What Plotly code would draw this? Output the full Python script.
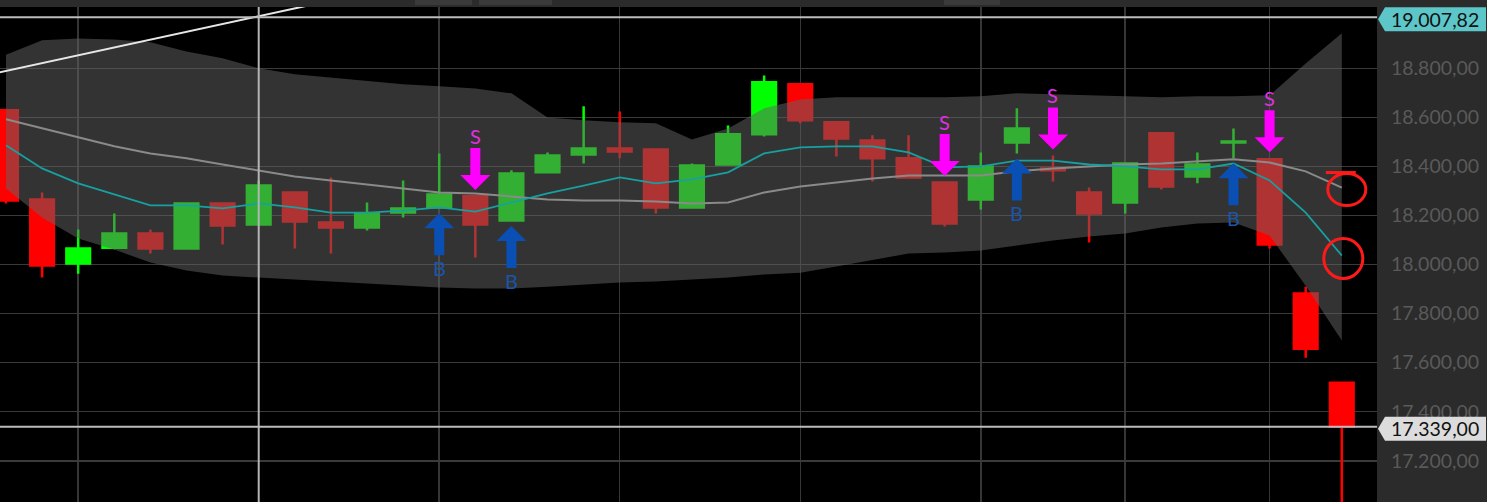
import plotly.graph_objects as go

# ---------------- data ----------------
idx = list(range(38))
opens = [18629, 18265, 18004, 18069, 18127, 18065, 18249, 18163, 18294, 18171,
         18151, 18212, 18233, 18278, 18180, 18376, 18449, 18473, 18469, 18233,
         18408, 18531, 18735, 18580, 18506, 18433, 18335, 18265, 18498, 18392,
         18294, 18253, 18535, 18359, 18498, 18429, 17882, 17518]
highs = [18635, 18294, 18143, 18208, 18143, 18253, 18253, 18343, 18298, 18355,
         18253, 18343, 18453, 18280, 18384, 18457, 18645, 18624, 18470, 18412,
         18567, 18771, 18739, 18582, 18527, 18527, 18337, 18457, 18637, 18445,
         18314, 18416, 18537, 18457, 18555, 18433, 17910, 17520]
lows = [18249, 17947, 17963, 18062, 18045, 18062, 18082, 18160, 18065, 18045,
        18139, 18192, 18230, 18029, 18178, 18374, 18412, 18433, 18208, 18230,
        18405, 18522, 18576, 18441, 18339, 18352, 18155, 18224, 18453, 18339,
        18090, 18208, 18306, 18331, 18433, 18065, 17620, 16950]
closes = [18261, 17996, 18065, 18127, 18065, 18249, 18159, 18322, 18176, 18151,
          18208, 18229, 18286, 18163, 18371, 18445, 18473, 18461, 18233, 18404,
          18531, 18743, 18588, 18514, 18433, 18355, 18167, 18400, 18555, 18384,
          18208, 18412, 18318, 18408, 18502, 18082, 17657, 17339]

bb_upper = [18855, 18914, 18922, 18918, 18906, 18869, 18841, 18800, 18776, 18763,
            18751, 18735, 18727, 18718, 18698, 18600, 18588, 18580, 18576, 18510,
            18555, 18637, 18673, 18682, 18682, 18682, 18682, 18686, 18698, 18694,
            18690, 18686, 18682, 18686, 18686, 18690, 18820, 18943]
bb_lower = [18310, 18192, 18106, 18061, 18008, 17976, 17955, 17947, 17939, 17931,
            17922, 17914, 17906, 17902, 17902, 17910, 17918, 17927, 17931, 17939,
            17947, 17959, 17967, 17992, 18020, 18045, 18049, 18057, 18078, 18098,
            18114, 18127, 18151, 18167, 18171, 18118, 17914, 17690]
sma_slow = [18592, 18555, 18518, 18482, 18453, 18433, 18408, 18384, 18359, 18343,
            18327, 18310, 18294, 18290, 18278, 18265, 18261, 18261, 18257, 18249,
            18253, 18294, 18318, 18335, 18351, 18363, 18363, 18363, 18380, 18392,
            18400, 18408, 18412, 18420, 18429, 18416, 18380, 18314]
ema_fast = [18486, 18392, 18331, 18286, 18241, 18241, 18229, 18249, 18233, 18212,
            18212, 18220, 18233, 18216, 18253, 18290, 18322, 18355, 18331, 18347,
            18376, 18453, 18478, 18482, 18482, 18457, 18396, 18400, 18424, 18424,
            18408, 18400, 18388, 18388, 18412, 18343, 18212, 18037]

trend_x = [-1, 12]
trend_y = [18757, 19172]

buy_idx = [12, 14, 28, 34]
sell_idx = [13, 26, 29, 35]
grid_idx = [2, 7, 12, 17, 22, 27, 31, 35]
cursor_idx = 7
ytick_vals = [17200, 17400, 17600, 17800, 18000, 18200, 18400, 18600, 18800]
ref_level = 19007.82
last_close = 17339.00

# ---------------- style ----------------
BG_PANEL = "#2b2b2b"
GREEN = "#00ff00"
RED = "#ff0000"
MAGENTA = "#ff00ff"
BLUE = "#0a50b4"
FONT = "Lato"


def eu(v):
    s = f"{v:,.2f}"
    return s.replace(",", "X").replace(".", ",").replace("X", ".")


fig = go.Figure()

fig.add_trace(go.Candlestick(
    x=idx, open=opens, high=highs, low=lows, close=closes,
    increasing=dict(line=dict(color=GREEN, width=2.5), fillcolor=GREEN),
    decreasing=dict(line=dict(color=RED, width=2.5), fillcolor=RED),
    whiskerwidth=0, showlegend=False, hoverinfo="skip",
))

# Bollinger band (overlays candles)
fig.add_trace(go.Scatter(x=idx, y=bb_lower, mode="lines", line=dict(width=0),
                         showlegend=False, hoverinfo="skip"))
fig.add_trace(go.Scatter(x=idx, y=bb_upper, mode="lines", line=dict(width=0),
                         fill="tonexty", fillcolor="rgba(100,100,100,0.51)",
                         showlegend=False, hoverinfo="skip"))

fig.add_trace(go.Scatter(x=idx, y=sma_slow, mode="lines",
                         line=dict(color="#8a8a8a", width=2),
                         showlegend=False, hoverinfo="skip"))
fig.add_trace(go.Scatter(x=idx, y=ema_fast, mode="lines",
                         line=dict(color="#17a0a0", width=1.8),
                         showlegend=False, hoverinfo="skip"))
fig.add_trace(go.Scatter(x=trend_x, y=trend_y, mode="lines",
                         line=dict(color="#e6e6e6", width=2),
                         showlegend=False, hoverinfo="skip"))

shapes = []
annotations = []

# cursor line and reference horizontal lines
shapes.append(dict(type="line", xref="x", yref="paper", x0=cursor_idx, x1=cursor_idx,
                   y0=0, y1=1, line=dict(color="#b4b4b4", width=2), layer="above"))
for lvl in (ref_level, last_close):
    shapes.append(dict(type="line", xref="paper", yref="y", x0=0, x1=1, y0=lvl, y1=lvl,
                       line=dict(color="#bdbdbd", width=2), layer="above"))

# sell arrows (down, above the high)
sell_path = "M 0,6 L -15,21 L -5,21 L -5,48 L 5,48 L 5,21 L 15,21 Z"
for i in sell_idx:
    shapes.append(dict(type="path", xref="x", yref="y", xsizemode="pixel",
                       ysizemode="pixel", xanchor=i, yanchor=highs[i], path=sell_path,
                       fillcolor=MAGENTA, line=dict(width=0), layer="above"))
    annotations.append(dict(x=i, y=highs[i], xref="x", yref="y", text="S",
                            showarrow=False, yanchor="middle", yshift=60,
                            font=dict(family=FONT, size=20, color="#e030e0")))
# buy arrows (up, below the low)
buy_path = "M 0,-5 L -15,-20 L -5,-20 L -5,-47 L 5,-47 L 5,-20 L 15,-20 Z"
for i in buy_idx:
    shapes.append(dict(type="path", xref="x", yref="y", xsizemode="pixel",
                       ysizemode="pixel", xanchor=i, yanchor=lows[i], path=buy_path,
                       fillcolor=BLUE, line=dict(width=0), layer="above"))
    annotations.append(dict(x=i, y=lows[i], xref="x", yref="y", text="B",
                            showarrow=False, yanchor="middle", yshift=-60,
                            font=dict(family=FONT, size=20, color="#1a55a8")))

# hand drawn red circles at the end of the averages
last = idx[-1]
shapes.append(dict(type="circle", xref="x", yref="y", xsizemode="pixel", ysizemode="pixel",
                   xanchor=last, yanchor=sma_slow[-1], x0=-14, x1=24, y0=-18, y1=14,
                   line=dict(color="#ff1a1a", width=3), layer="above"))
shapes.append(dict(type="line", xref="x", yref="y", xsizemode="pixel", ysizemode="pixel",
                   xanchor=last, yanchor=sma_slow[-1], x0=-16, x1=14, y0=15, y1=15,
                   line=dict(color="#ff1a1a", width=3), layer="above"))
shapes.append(dict(type="circle", xref="x", yref="y", xsizemode="pixel", ysizemode="pixel",
                   xanchor=last, yanchor=ema_fast[-1], x0=-18, x1=21, y0=-23, y1=17,
                   line=dict(color="#ff1a1a", width=3), layer="above"))

# price labels on the right axis
label_path = "M 1,-2 L 8,10 L 109,10 L 109,-14 L 8,-14 Z"
for lvl, col in ((ref_level, "#5cc6c9"), (last_close, "#dcdcdc")):
    shapes.append(dict(type="path", xref="paper", yref="y", xsizemode="pixel",
                       ysizemode="pixel", xanchor=1, yanchor=lvl, path=label_path,
                       fillcolor=col, line=dict(width=0), layer="above"))
    annotations.append(dict(x=1.0418, y=lvl, xref="paper", yref="y", text=eu(lvl),
                            showarrow=False, xanchor="center", yanchor="middle", yshift=-2,
                            font=dict(family=FONT, size=19.5, color="#111111")))

# tabs in top strip
for x0p, x1p in ((415, 472), (479, 552), (944, 1000)):
    shapes.append(dict(type="rect", xref="paper", yref="paper", x0=x0p / 1377, x1=x1p / 1377,
                       y0=1.004, y1=1.02, fillcolor="#3a3a3a", line=dict(width=0),
                       layer="above"))

fig.update_layout(
    width=1487, height=502,
    margin=dict(l=0, r=110, t=7, b=0, pad=0),
    paper_bgcolor=BG_PANEL, plot_bgcolor="#000000",
    separators=",.",
    showlegend=False, hovermode=False,
    boxgap=0.345, boxgroupgap=0,
    shapes=shapes, annotations=annotations,
    xaxis=dict(range=[-0.166, 37.975], tickvals=grid_idx, showticklabels=False,
               showgrid=True, gridcolor="#363636", gridwidth=1.5, zeroline=False,
               rangeslider=dict(visible=False), showline=False, ticks="",
               fixedrange=True),
    yaxis=dict(range=[17032, 19050], side="right", tickvals=ytick_vals,
               tickformat=",.2f", showgrid=True, gridcolor="#3a3a3a", gridwidth=1.5,
               zeroline=False, showline=False, ticks="outside", ticklen=9,
               tickcolor=BG_PANEL, tickfont=dict(family=FONT, size=19.5, color="#5a5a5a"),
               fixedrange=True),
)

fig.write_html(
    "out.html",
    config={"displayModeBar": False, "staticPlot": True},
    post_script="document.body.style.margin='0';document.body.style.overflow='hidden';",
)
